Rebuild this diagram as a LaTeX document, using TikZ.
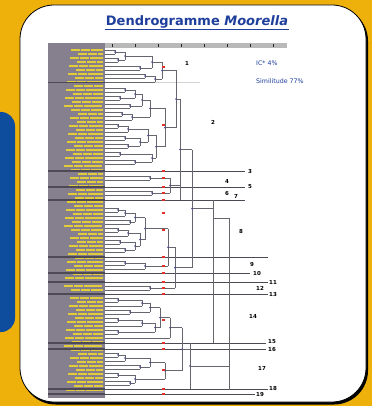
\documentclass[tikz,border=0pt]{standalone}
\usepackage{fontspec}
\setmainfont{DejaVu Sans}
\usetikzlibrary{positioning}
\definecolor{posteryellow}{HTML}{EEB10C}
\definecolor{panelblue}{HTML}{0E4C9E}
\definecolor{titleblue}{HTML}{1F3F9C}
\definecolor{labelgray}{HTML}{857F8E}
\definecolor{bandgray}{HTML}{4E4A55}
\definecolor{labelyellow}{HTML}{E2CC3A}
\definecolor{treegray}{HTML}{66666E}
\definecolor{cutred}{HTML}{E0302A}
\tikzset{
  tree/.style={draw=treegray, line width=0.55pt},
  longline/.style={draw=bandgray, line width=0.9pt},
  clnum/.style={font=\fontsize{5.5}{6}\selectfont\bfseries, inner sep=0.5pt},
  infotext/.style={font=\fontsize{6.3}{7}\selectfont, text=titleblue, anchor=west, inner sep=0pt},
  knot/.style={fill=treegray!70!blue},
}

\begin{document}
\begin{tikzpicture}[x=1pt, y=-1pt]
  \useasboundingbox (0,0) rectangle (372,406);
  \fill[posteryellow] (0,0) rectangle (372,406);
  \fill[panelblue, rounded corners=14pt] (-20,112) rectangle (15,332);
  % card
  \fill[black, rounded corners=34pt] (21.5,7) rectangle (368,404.5);
  \draw[fill=white, draw=black, line width=0.8pt, rounded corners=34pt] (20,5) rectangle (366,402);
  \node[font=\fontsize{13}{15}\selectfont\bfseries, text=titleblue, inner sep=1pt] (title) at (197,22) {Dendrogramme \textit{Moorella}};
  \draw[titleblue, line width=0.8pt] (title.south west) -- (title.south east);
  % strain labels and scale
  \fill[labelgray] (48,43) rectangle (105,398);
  \fill[gray!55] (105,43) rectangle (287,48);
  \foreach \x in {112,135,158,181,204,227,250,273}
    \draw[gray!30!black, line width=0.3pt] (\x,44) -- (\x,47);
  \foreach \y [count=\i] in {50,54,...,394} {
    \pgfmathsetmacro\s{64+mod(\i*7,15)}
    \draw[labelyellow, line width=1.3pt, dash pattern=on 9pt off 0.8pt] (\s,\y) -- (103,\y);
  }
  \draw[bandgray, line width=0.6pt] (48,82) -- (105,82);
  \draw[gray!35, line width=0.4pt] (105,82) -- (200,82);
  % leaves
  \foreach \y/\x in {50/115,54/115,58/118,62/118,66/140,70/140,74/145,78/145,82/155,
      88/125,92/125,96/120,100/120,104/130,108/130,112/122,116/122,120/132,124/118,128/118,
      132/128,136/125,140/125,144/128,148/128,152/120,156/120,160/135,164/135,
      176/150,180/150,191/152,195/152,
      208/118,212/118,216/125,220/130,224/130,228/118,232/118,236/128,240/120,244/120,248/125,252/125,
      261/125,265/125,269/145,286/150,290/150,
      298/118,302/118,306/142,310/130,314/130,318/118,322/118,326/142,330/118,334/118,338/170,
      353/118,357/118,361/125,365/140,369/140,373/118,377/118,381/130,385/130}
    \draw[tree] (105,\y) -- (\x,\y);
  \foreach \y/\e in {171/245,187/245,200/245,257/268,273/250,282/268,294/268,343/266,349/266,389/268,394/255} {
    \fill[bandgray] (48,{\y-1.2}) rectangle (105,{\y+1.2});
    \draw[longline] (105,\y) -- (\e,\y);
  }
  % clades
  \foreach \x/\a/\b/\p in {115/50/54/125,118/58/62/125,125/52/60/152,140/66/70/152,152/56/68/162,
      145/74/78/155,155/76/82/162,162/62/79/176,
      125/88/92/135,120/96/100/135,135/90/98/142,130/104/108/142,142/94/106/150,122/112/116/132,
      132/114/120/150,150/100/117/165,118/124/128/128,128/126/132/148,125/136/140/140,128/144/148/140,
      140/138/146/148,148/129/142/156,120/152/156/152,135/160/164/152,152/154/162/156,156/135.5/158/165,
      165/108.5/146.75/176,176/70.5/127.625/180,
      150/176/180/170,152/191/195/170,170/178/193/180,180/99/200/192,
      118/208/212/125,125/210/216/135,130/220/224/135,135/213/222/145,118/228/232/128,128/230/236/140,
      120/240/244/135,125/248/252/135,135/242/250/140,140/233/246/145,145/217.5/239.5/168,
      125/261/265/145,145/263/269/168,168/228.5/266/175,150/286/290/175,175/247.25/288/192,
      192/149.5/267.6/213,
      118/298/302/142,142/300/306/150,130/310/314/150,150/303/312/160,118/318/322/142,142/320/326/155,
      118/330/334/155,155/323/332/160,160/307.5/327.5/170,170/317.5/338/182,
      118/353/357/125,125/355/361/150,140/365/369/150,150/358/367/165,118/373/377/135,130/381/385/135,
      135/375/383/165,165/362.5/379/182,182/327.75/370.75/190,190/343/389/229} {
    \pgfmathsetmacro\m{(\a+\b)/2}
    \draw[tree] (\x,\a) -- (\x,\b) (\x,\m) -- (\p,\m);
    \fill[knot] (\x,\m) circle (0.9pt);
  }
  \draw[tree] (213,200) -- (213,343);
  \draw[tree] (213,218) -- (229,218) -- (229,390);
  % cut line marks
  \foreach \y in {67,125,171,178,187,193,200,213,230,257,266,273,282,288,294,320,343,349,370,389,394}
    \fill[cutred] (162,{\y-1.2}) rectangle (164.5,{\y+1.2});
  % cluster numbers
  \foreach \n/\x/\y in {1/187/63,2/213/122,3/250/171,4/227/181,5/250/187,6/227/193,7/236/196,8/241/231,
      9/252/264,10/257/273,11/273/282,12/260/288,13/273/294,14/253/316,15/272/342,16/272/349,
      17/262/368,18/273/388,19/260/394}
    \node[clnum] (n\n) at (\x,\y) {\n};
  \node[infotext] (ic) at (256,63) {IC* 4\%};
  \node[infotext] (sim) at (256,81) {Similitude 77\%};
\end{tikzpicture}
\end{document}
